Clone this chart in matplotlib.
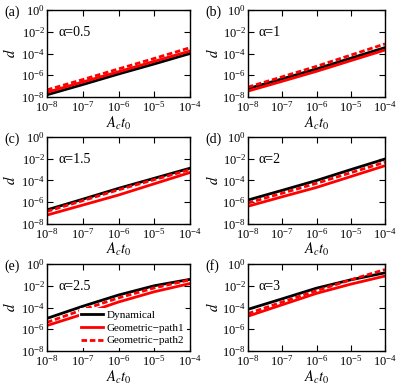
import matplotlib
matplotlib.use("Agg")
import matplotlib.pyplot as plt
import numpy as np

plt.rcParams['font.family'] = ['Liberation Serif', 'DejaVu Serif']
plt.rcParams['mathtext.fontset'] = 'stix'
plt.rcParams['font.size'] = 8.5

# Dados
x = [1e-8, 1e-7, 1e-6, 1e-5, 1e-4]
alphas = ['0.5', '1', '1.5', '2', '2.5', '3']
letras = ['(a)', '(b)', '(c)', '(d)', '(e)', '(f)']

dinamico = [
    [1.6e-8, 1.4e-7, 1.3e-6, 1.1e-5, 1.0e-4],
    [5.8e-8, 4.7e-7, 3.8e-6, 3.7e-5, 3.5e-4],
    [2.0e-7, 1.9e-6, 1.9e-5, 1.6e-4, 1.35e-3],
    [1.6e-6, 1.25e-5, 1.0e-4, 1.0e-3, 9.5e-3],
    [1.0e-5, 1.3e-4, 1.4e-3, 1.0e-2, 3.9e-2],
    [6.8e-5, 6.3e-4, 6.0e-3, 3.5e-2, 1.55e-1],
]
caminho1 = [
    [2.7e-8, 2.4e-7, 2.1e-6, 1.9e-5, 1.7e-4],
    [3.5e-8, 2.8e-7, 2.3e-6, 2.2e-5, 2.1e-4],
    [6.6e-8, 5.5e-7, 4.6e-6, 5.0e-5, 5.4e-4],
    [4.3e-7, 3.2e-6, 2.3e-5, 2.3e-4, 2.3e-3],
    [2.2e-6, 2.4e-5, 3.2e-4, 2.8e-3, 1.6e-2],
    [1.6e-5, 1.8e-4, 2.0e-3, 1.4e-2, 7.8e-2],
]
caminho2 = [
    [4.5e-8, 4.0e-7, 3.8e-6, 3.5e-5, 3.4e-4],
    [8.1e-8, 7.2e-7, 6.6e-6, 7.1e-5, 7.6e-4],
    [1.45e-7, 1.4e-6, 1.4e-5, 1.2e-4, 1.0e-3],
    [8.5e-7, 6.8e-6, 5.5e-5, 5.2e-4, 4.8e-3],
    [4.3e-6, 6.3e-5, 7.6e-4, 6.3e-3, 3.5e-2],
    [2.75e-5, 3.2e-4, 3.5e-3, 3.5e-2, 3.1e-1],
]

W, H = 415, 387
fig = plt.figure(figsize=(W / 100, H / 100), dpi=100)

# posicoes em pixels: (esquerda, direita), (topo, baixo)
colunas = [(47, 190), (248, 385)]
linhas = [(10, 97), (137, 224), (264, 351)]

for i in range(6):
    c = colunas[i % 2]
    r = linhas[i // 2]
    ax = fig.add_axes([c[0] / W, 1 - r[1] / H, (c[1] - c[0]) / W, (r[1] - r[0]) / H])
    ax.plot(x, dinamico[i], 'k-', lw=2, label='Dynamical')
    ax.plot(x, caminho1[i], '-', color='red', lw=2, label='Geometric\u2212path1')
    ax.plot(x, caminho2[i], '--', color='red', lw=2, dashes=(2, 1), label='Geometric\u2212path2')
    ax.set_xscale('log')
    ax.set_yscale('log')
    ax.set_xlim(1e-8, 1e-4)
    ax.set_ylim(1e-8, 1e0)
    ax.set_xticks([1e-8, 1e-7, 1e-6, 1e-5, 1e-4])
    ax.set_yticks([1e-8, 1e-6, 1e-4, 1e-2, 1e0])
    ax.minorticks_off()
    ax.tick_params(direction='in', top=True, right=True, length=4, width=0.8,
                   labelsize=9)
    ax.tick_params(axis='y', pad=1.5)
    ax.tick_params(axis='x', pad=2.5)
    for s in ax.spines.values():
        s.set_linewidth(1)
    ax.set_ylabel('$d$', fontsize=10.5)
    ax.yaxis.set_label_coords(-0.2, 0.5)
    ax.set_xlabel('$A_c t_0$', fontsize=10.5)
    ax.xaxis.set_label_coords(0.5, -0.2)
    ax.text(0.08, 0.74, '\u03b1=' + alphas[i], transform=ax.transAxes,
            fontsize=10, va='center')
    fig.text((c[0] - 43) / W, 1 - (r[0] + 2) / H, letras[i], fontsize=10, va='center')
    if i == 4:
        ax.legend(loc='lower right', bbox_to_anchor=(1.0, 0.0), fontsize=8,
                  frameon=True, facecolor='white', edgecolor='none', framealpha=1,
                  handlelength=2.0, handletextpad=0.3, borderpad=0.2,
                  labelspacing=0.25, borderaxespad=0.3)

fig.savefig('out.png', dpi=100)
